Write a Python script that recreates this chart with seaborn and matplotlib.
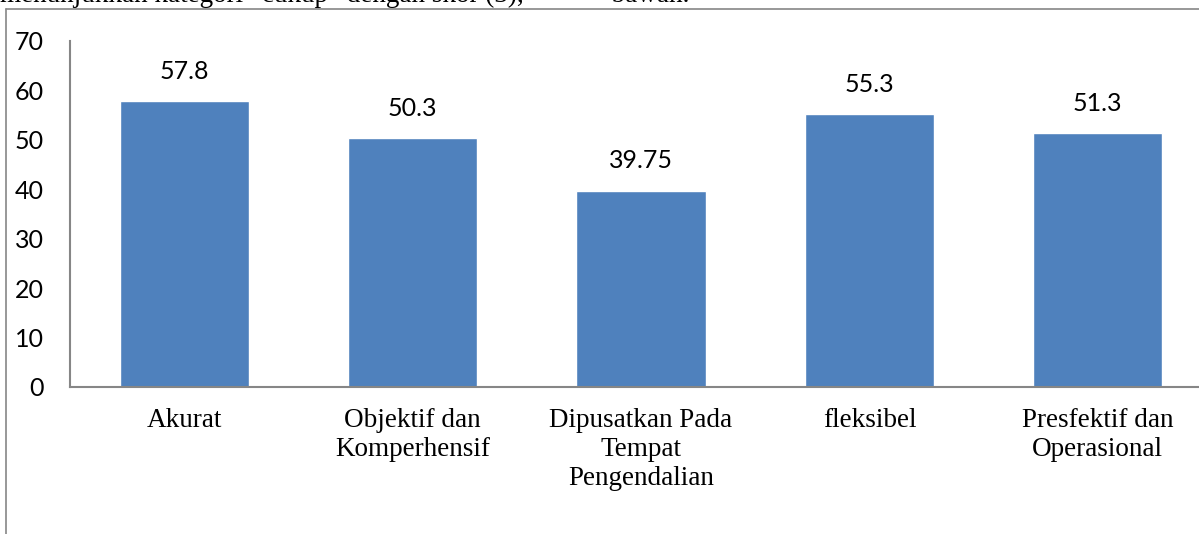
import matplotlib
matplotlib.use("Agg")
import matplotlib.pyplot as plt
import seaborn as sns
import pandas as pd
from matplotlib.lines import Line2D

categories = ["Akurat", "Objektif dan\nKomperhensif", "Dipusatkan Pada\nTempat\nPengendalian",
              "fleksibel", "Presfektif dan\nOperasional"]
values = [57.8, 50.3, 39.75, 55.3, 51.3]
value_labels = ["57.8", "50.3", "39.75", "55.3", "51.3"]
yticks = [0, 10, 20, 30, 40, 50, 60, 70]

sns.set_theme(style="white")
plt.rcParams['font.family'] = ['Lato', 'DejaVu Sans']

W, H = 1199, 534
fig = plt.figure(figsize=(W / 100, H / 100), dpi=100)
fig.patch.set_facecolor("white")

left, right, top, bottom = 70, 1212, 41, 387
ax = fig.add_axes([left / W, (H - bottom) / H, (right - left) / W, (bottom - top) / H])

df = pd.DataFrame({"cat": categories, "val": values})
sns.barplot(data=df, x="cat", y="val", color="#4F81BD", saturation=1, width=0.565, ax=ax)

ax.set_xlim(-0.5, 4.5)
ax.set_ylim(0, 70)
ax.set_yticks(yticks)
ax.set_yticklabels([str(t) for t in yticks], fontsize=18, color="black")
ax.set_xlabel("")
ax.set_ylabel("")
ax.tick_params(axis="y", length=0, pad=19)
ax.tick_params(axis="x", length=0, pad=15)
for lbl in ax.get_xticklabels():
    lbl.set_fontfamily("Liberation Serif")
    lbl.set_fontsize(19.5)
    lbl.set_color("black")
    lbl.set_linespacing(1.22)

for s in ["top", "right"]:
    ax.spines[s].set_visible(False)
for s in ["left", "bottom"]:
    ax.spines[s].set_color("#868686")
    ax.spines[s].set_linewidth(1.5)

for i, (v, t) in enumerate(zip(values, value_labels)):
    ax.annotate(t, xy=(i, v), xytext=(0, 13), textcoords="offset points",
                ha="center", va="bottom", fontsize=18, color="black")

# outer frame (clipped chart border)
fig.add_artist(Line2D([6 / W, 6 / W], [0, 1 - 9 / H], transform=fig.transFigure,
                      color="#868686", lw=1.2))
fig.add_artist(Line2D([6 / W, 1], [1 - 9 / H, 1 - 9 / H], transform=fig.transFigure,
                      color="#868686", lw=1.2))

# clipped line of document text above the chart
fig.text(0 / W, 1 - 2 / H, "menunjukkan kategori \u201ccukup\u201d dengan skor (3),             bawah.",
         fontfamily="Liberation Serif", fontsize=19.5, va="baseline", ha="left", color="black")

fig.savefig("out.png", dpi=100, facecolor="white")
